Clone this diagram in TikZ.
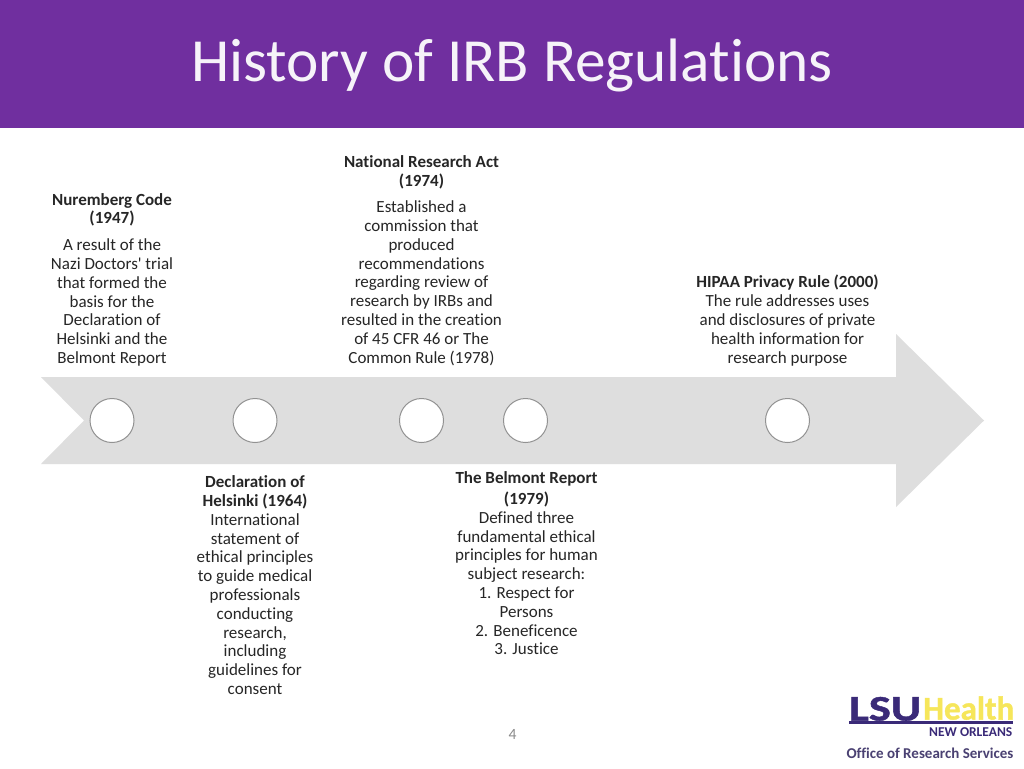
\documentclass[tikz,border=0pt]{standalone}
\usepackage{fontspec}
\newfontfamily\carl{Carlito}[RawFeature=-liga]
\newfontfamily\carlheavy{Carlito}[RawFeature=-liga,FakeBold=1.2]
\definecolor{banner}{HTML}{702F9F}
\definecolor{band}{HTML}{DEDEDE}
\definecolor{ringc}{HTML}{929292}
\definecolor{bodyc}{HTML}{262626}
\definecolor{lsupurple}{HTML}{3A2A78}
\definecolor{lsuyellow}{HTML}{F6E65A}
\definecolor{officec}{HTML}{4A4172}
\definecolor{pagec}{HTML}{8A8A8A}
\tikzset{
  x=1pt,y=-1pt,
  txt/.style={anchor=north,align=center,inner sep=0pt,text=bodyc,font=\carl\fontsize{17}{18.8}\selectfont},
  dot/.style={circle,draw=ringc,line width=1pt,fill=white,minimum size=44pt,inner sep=0pt},
}
\begin{document}
\begin{tikzpicture}
\useasboundingbox (0,0) rectangle (1024,768);
\fill[white] (0,0) rectangle (1024,768);
\fill[banner] (0,0) rectangle (1024,128);
\node[anchor=center,inner sep=0pt,text=white!94!banner,font=\carl\fontsize{61.3}{70}\selectfont] (title) at (512,65.5) {History of IRB Regulations};
\fill[band] (41,377) -- (896,377) -- (896,334) -- (984,420.5) -- (896,507) -- (896,464) -- (41,464) -- (84,420.5) -- cycle;
\node[dot] (c1) at (112,420.5) {};
\node[dot] (c2) at (255,420.5) {};
\node[dot] (c3) at (421.5,420.5) {};
\node[dot] (c4) at (525.5,420.5) {};
\node[dot] (c5) at (787.5,420.5) {};
\node[txt] (nuremberg) at (112,193) {\textbf{Nuremberg Code}\\\textbf{(1947)}\\[8pt]A result of the\\Nazi Doctors' trial\\that formed the\\basis for the\\Declaration of\\Helsinki and the\\Belmont Report};
\node[txt] (nra) at (421.5,155.5) {\textbf{National Research Act}\\\textbf{(1974)}\\[7.5pt]Established a\\commission that\\produced\\recommendations\\regarding review of\\research by IRBs and\\resulted in the creation\\of 45 CFR 46 or The\\Common Rule (1978)};
\node[txt] (hipaa) at (787.5,275) {\textbf{HIPAA Privacy Rule (2000)}\\The rule addresses uses\\and disclosures of private\\health information for\\research purpose};
\node[txt] (helsinki) at (255,475.5) {\textbf{Declaration of}\\\textbf{Helsinki (1964)}\\International\\statement of\\ethical principles\\to guide medical\\professionals\\conducting\\research,\\including\\guidelines for\\consent};
\node[txt] (belmont) at (526.5,471.5) {\textbf{The Belmont Report}\\[2pt]\textbf{(1979)}\\Defined three\\fundamental ethical\\principles for human\\subject research:\\1. Respect for\\Persons\\2. Beneficence\\3. Justice};
\node[anchor=center,inner sep=0pt,text=pagec,font=\carl\fontsize{15.6}{18}\selectfont] (pagenum) at (512.5,734) {4};
\node[anchor=south west,inner sep=0pt,text=lsupurple,xscale=1.29,font=\carlheavy\fontsize{36}{36}\bfseries\selectfont] (lsu) at (849,721) {LSU};
\node[anchor=south west,inner sep=0pt,text=lsuyellow,font=\carlheavy\fontsize{33}{33}\bfseries\selectfont] (health) at (923,720) {Health};
\fill[lsupurple] (849,721) rectangle (1012.5,724);
\node[anchor=east,inner sep=0pt,text=lsupurple,font=\carl\fontsize{13.5}{14}\bfseries\selectfont] (neworleans) at (1012.5,732) {NEW ORLEANS};
\node[anchor=center,inner sep=0pt,text=officec,font=\carl\fontsize{15}{16}\bfseries\selectfont] (office) at (930,753) {Office of Research Services};
\end{tikzpicture}
\end{document}
